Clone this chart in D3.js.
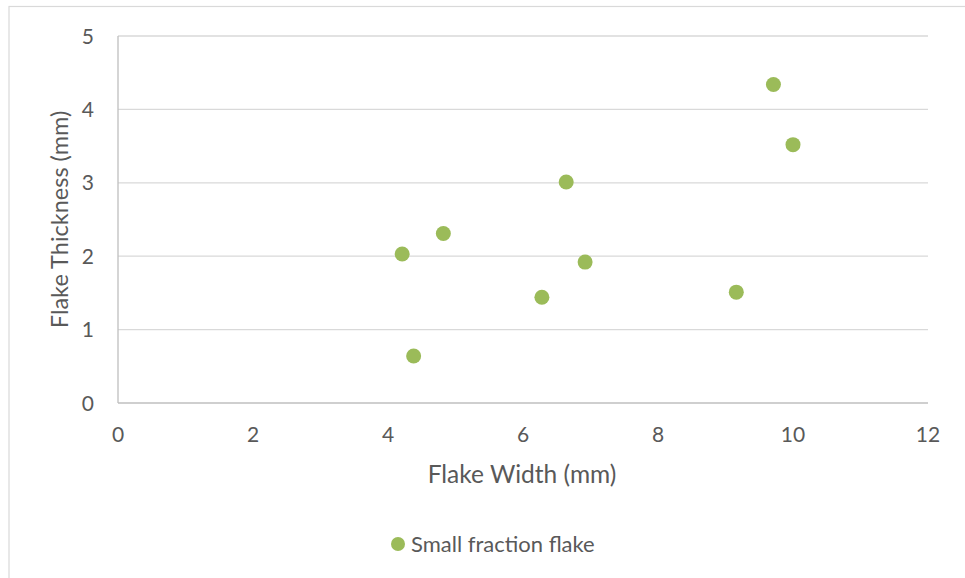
<!DOCTYPE html>
<html><head><meta charset="utf-8">
<script src="https://cdn.jsdelivr.net/npm/d3@7"></script>
<style>html,body{margin:0;padding:0;background:#fff;} svg{display:block;}</style>
</head><body>
<svg id="chart" width="965" height="578"></svg>
<script>
const flakeWidth = [4.21, 4.38, 4.82, 6.28, 6.64, 6.92, 9.16, 9.71, 10.0];
const flakeThickness = [2.03, 0.64, 2.31, 1.44, 3.01, 1.92, 1.51, 4.34, 3.52];
const xTicks = [0, 2, 4, 6, 8, 10, 12];
const yTicks = [0, 1, 2, 3, 4, 5];
const seriesName = "Small fraction flake";
const xTitle = "Flake Width (mm)";
const yTitle = "Flake Thickness (mm)";

const svg = d3.select("#chart");
const font = "Lato, 'Open Sans', sans-serif";
const textColor = "#595959";
const green = "#9BBB59";

svg.append("rect").attr("x", 9).attr("y", 6.5).attr("width", 1000).attr("height", 1000)
  .attr("fill", "#fff").attr("stroke", "#d9d9d9").attr("stroke-width", 1.2);

const x = d3.scaleLinear().domain([0, 12]).range([118, 928]);
const y = d3.scaleLinear().domain([0, 5]).range([403, 36]);

svg.append("g").selectAll("line").data(yTicks.filter(d => d > 0)).join("line")
  .attr("x1", x(0)).attr("x2", x(12)).attr("y1", d => y(d)).attr("y2", d => y(d))
  .attr("stroke", "#d9d9d9").attr("stroke-width", 1.3);

svg.append("line").attr("x1", x(0)).attr("x2", x(12)).attr("y1", y(0)).attr("y2", y(0))
  .attr("stroke", "#bfbfbf").attr("stroke-width", 1.3);
svg.append("line").attr("x1", x(0)).attr("x2", x(0)).attr("y1", y(0)).attr("y2", y(5))
  .attr("stroke", "#bfbfbf").attr("stroke-width", 1.3);

svg.append("g").selectAll("text").data(xTicks).join("text")
  .attr("x", d => x(d)).attr("y", 442).attr("text-anchor", "middle")
  .attr("font-family", font).attr("font-size", 21).attr("fill", textColor)
  .text(d => d);
svg.append("g").selectAll("text").data(yTicks).join("text")
  .attr("x", 94).attr("y", d => y(d) + 7.5).attr("text-anchor", "end")
  .attr("font-family", font).attr("font-size", 21).attr("fill", textColor)
  .text(d => d);

svg.append("text").attr("x", (x(0) + x(12)) / 2 - 1).attr("y", 483).attr("text-anchor", "middle")
  .attr("font-family", font).attr("font-size", 24.5).attr("fill", textColor).text(xTitle);
svg.append("text").attr("transform", `translate(68,${(y(0) + y(5)) / 2}) rotate(-90)`)
  .attr("text-anchor", "middle")
  .attr("font-family", font).attr("font-size", 23.5).attr("fill", textColor).text(yTitle);

const data = flakeWidth.map((w, i) => ({w, t: flakeThickness[i]}));
svg.append("g").selectAll("circle").data(data).join("circle")
  .attr("cx", d => x(d.w)).attr("cy", d => y(d.t)).attr("r", 7.5)
  .attr("fill", green);

svg.append("circle").attr("cx", 398).attr("cy", 544).attr("r", 7).attr("fill", green);
svg.append("text").attr("x", 411).attr("y", 551.5).attr("font-family", font)
  .attr("font-size", 22).attr("fill", textColor).text(seriesName);
</script>
</body></html>
